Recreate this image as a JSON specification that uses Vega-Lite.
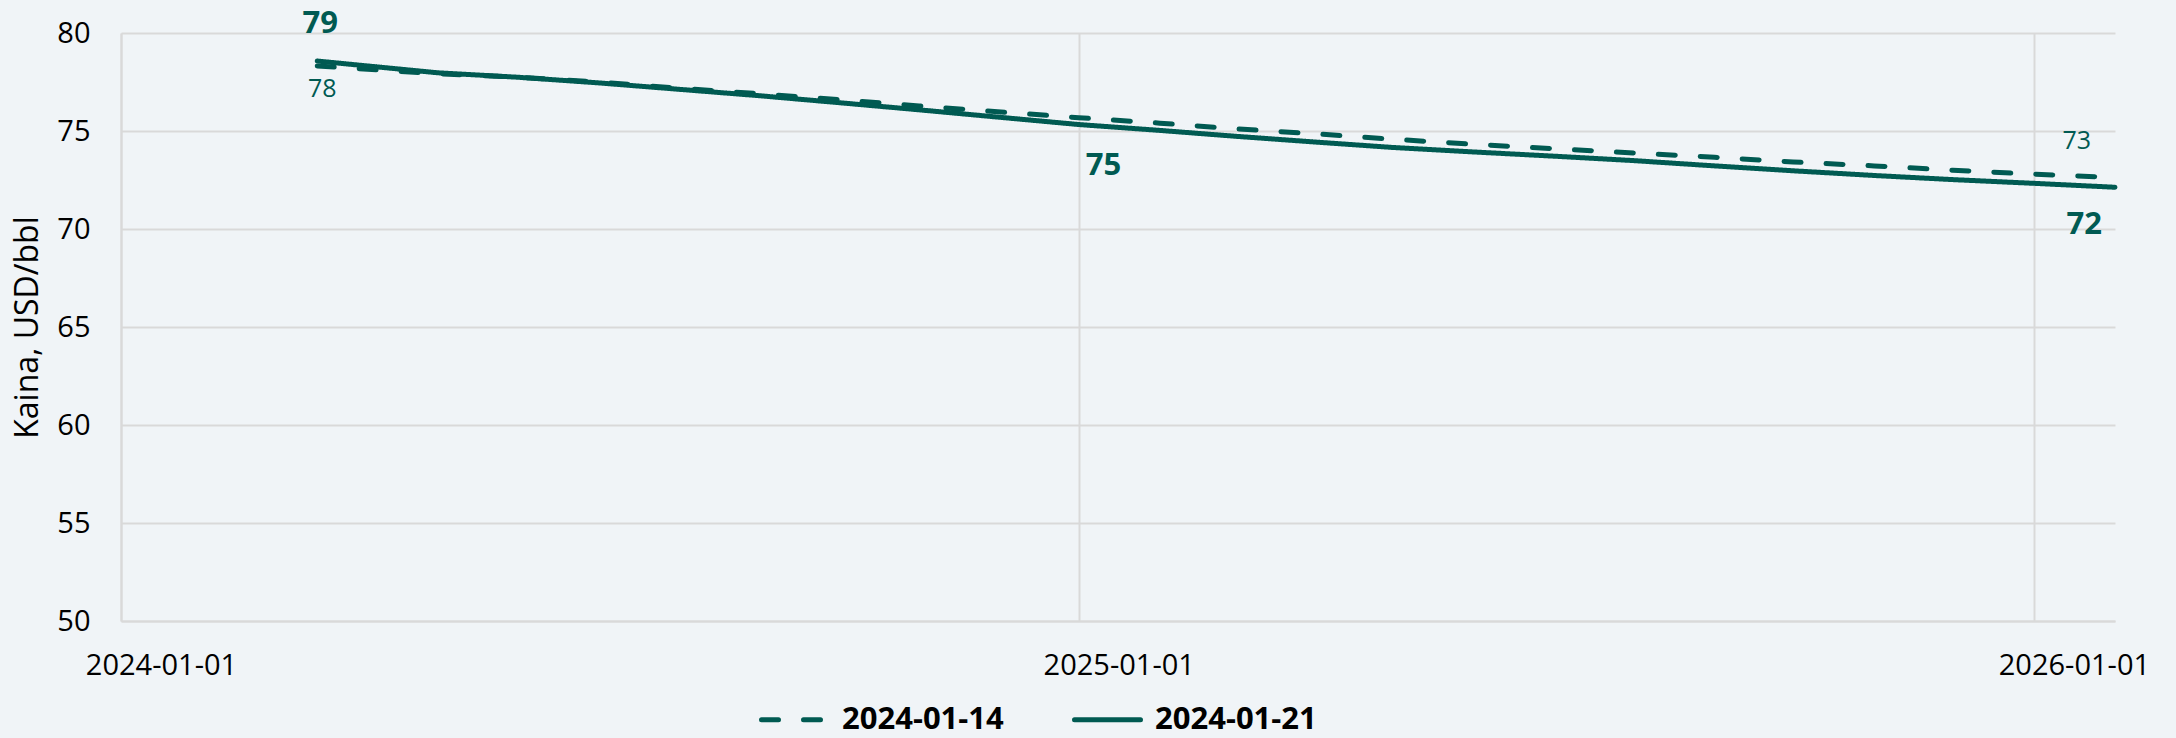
{
  "$schema": "https://vega.github.io/schema/vega-lite/v6.json",
  "autosize": {"type": "none"},
  "width": 1994,
  "height": 588,
  "padding": {"left": 121, "top": 33, "right": 61, "bottom": 117},
  "background": "#F0F4F7",
  "config": {
    "view": {"stroke": null},
    "font": "Open Sans",
    "axis": {"labelFont": "Open Sans", "titleFont": "Open Sans"}
  },
  "datasets": {
    "curves": [
      {"date": "2024-03-16", "series": "2024-01-14", "value": 78.32},
      {"date": "2024-04-01", "series": "2024-01-14", "value": 78.18},
      {"date": "2024-05-01", "series": "2024-01-14", "value": 77.92},
      {"date": "2024-06-01", "series": "2024-01-14", "value": 77.74},
      {"date": "2024-07-01", "series": "2024-01-14", "value": 77.50},
      {"date": "2024-08-01", "series": "2024-01-14", "value": 77.19},
      {"date": "2024-09-01", "series": "2024-01-14", "value": 76.90},
      {"date": "2024-10-01", "series": "2024-01-14", "value": 76.60},
      {"date": "2024-11-01", "series": "2024-01-14", "value": 76.28},
      {"date": "2024-12-01", "series": "2024-01-14", "value": 75.98},
      {"date": "2025-01-01", "series": "2024-01-14", "value": 75.68},
      {"date": "2025-02-01", "series": "2024-01-14", "value": 75.40},
      {"date": "2025-03-01", "series": "2024-01-14", "value": 75.12},
      {"date": "2025-04-01", "series": "2024-01-14", "value": 74.86},
      {"date": "2025-05-01", "series": "2024-01-14", "value": 74.58},
      {"date": "2025-06-01", "series": "2024-01-14", "value": 74.32},
      {"date": "2025-07-01", "series": "2024-01-14", "value": 74.10},
      {"date": "2025-08-01", "series": "2024-01-14", "value": 73.88},
      {"date": "2025-09-01", "series": "2024-01-14", "value": 73.66},
      {"date": "2025-10-01", "series": "2024-01-14", "value": 73.42},
      {"date": "2025-11-01", "series": "2024-01-14", "value": 73.22},
      {"date": "2025-12-01", "series": "2024-01-14", "value": 73.00},
      {"date": "2026-01-01", "series": "2024-01-14", "value": 72.80},
      {"date": "2026-02-01", "series": "2024-01-14", "value": 72.62},
      {"date": "2024-03-16", "series": "2024-01-21", "value": 78.57},
      {"date": "2024-04-01", "series": "2024-01-21", "value": 78.36},
      {"date": "2024-05-01", "series": "2024-01-21", "value": 77.97},
      {"date": "2024-06-01", "series": "2024-01-21", "value": 77.74},
      {"date": "2024-07-01", "series": "2024-01-21", "value": 77.46},
      {"date": "2024-08-01", "series": "2024-01-21", "value": 77.13},
      {"date": "2024-09-01", "series": "2024-01-21", "value": 76.80},
      {"date": "2024-10-01", "series": "2024-01-21", "value": 76.45},
      {"date": "2024-11-01", "series": "2024-01-21", "value": 76.08},
      {"date": "2024-12-01", "series": "2024-01-21", "value": 75.71},
      {"date": "2025-01-01", "series": "2024-01-21", "value": 75.33},
      {"date": "2025-02-01", "series": "2024-01-21", "value": 75.03},
      {"date": "2025-03-01", "series": "2024-01-21", "value": 74.74},
      {"date": "2025-04-01", "series": "2024-01-21", "value": 74.44},
      {"date": "2025-05-01", "series": "2024-01-21", "value": 74.16},
      {"date": "2025-06-01", "series": "2024-01-21", "value": 73.93},
      {"date": "2025-07-01", "series": "2024-01-21", "value": 73.72},
      {"date": "2025-08-01", "series": "2024-01-21", "value": 73.49},
      {"date": "2025-09-01", "series": "2024-01-21", "value": 73.22},
      {"date": "2025-10-01", "series": "2024-01-21", "value": 72.97},
      {"date": "2025-11-01", "series": "2024-01-21", "value": 72.73},
      {"date": "2025-12-01", "series": "2024-01-21", "value": 72.52},
      {"date": "2026-01-01", "series": "2024-01-21", "value": 72.33},
      {"date": "2026-02-01", "series": "2024-01-21", "value": 72.13}
    ]
  },
  "layer": [
    {
      "data": {"name": "curves"},
      "mark": {"type": "line", "strokeWidth": 5, "strokeCap": "round", "color": "#005A52"},
      "encoding": {
        "x": {
          "field": "date", "type": "temporal",
          "scale": {"type": "utc", "domain": ["2024-01-01", "2026-02-01"], "nice": false},
          "axis": {
            "title": null,
            "format": "%Y-%m-%d",
            "values": [
              {"year": 2024, "month": 1, "date": 1, "utc": true},
              {"year": 2025, "month": 1, "date": 1, "utc": true},
              {"year": 2026, "month": 1, "date": 1, "utc": true}
            ],
            "grid": true, "gridColor": "#D9D9D9", "gridWidth": 2,
            "domain": true, "domainColor": "#D9D9D9", "domainWidth": 2,
            "ticks": false, "tickSize": 0,
            "labelFontSize": 29, "labelColor": "#000000",
            "labelPadding": 30, "labelOffset": 40, "labelAlign": "center",
            "labelBaseline": "top", "labelFlush": false, "labelOverlap": false
          }
        },
        "y": {
          "field": "value", "type": "quantitative",
          "scale": {"domain": [50, 80], "nice": false, "zero": false},
          "axis": {
            "title": "Kaina, USD/bbl",
            "values": [50, 55, 60, 65, 70, 75, 80],
            "grid": true, "gridColor": "#D9D9D9", "gridWidth": 2,
            "domain": true, "domainColor": "#D9D9D9", "domainWidth": 2,
            "ticks": false, "tickSize": 0,
            "labelFontSize": 29, "labelColor": "#000000", "labelPadding": 31,
            "titleFontSize": 32, "titleFontWeight": "normal", "titleColor": "#000000",
            "titlePadding": 12
          }
        },
        "strokeDash": {
          "field": "series", "type": "nominal",
          "scale": {"domain": ["2024-01-14", "2024-01-21"], "range": [[17, 25], [1, 0]]},
          "legend": {
            "orient": "none", "legendX": 638, "legendY": 651,
            "direction": "horizontal", "title": null, "padding": 0,
            "labelFont": "Open Sans", "labelFontSize": 31, "labelFontWeight": "bold", "labelColor": "#000000",
            "labelLimit": 0,
            "symbolType": "stroke", "symbolSize": 4356, "symbolStrokeWidth": 5,
            "symbolStrokeColor": "#005A52", "labelOffset": 12, "columnPadding": 60,
            "encode": {"symbols": {"update": {"strokeCap": {"value": "round"}}}}
          }
        }
      }
    },
    {
      "data": {"values": [{"date": "2024-03-16", "value": 78.57, "label": "79"}]},
      "mark": {"type": "text", "font": "Open Sans", "fontSize": 31, "fontWeight": "bold", "color": "#005A52", "align": "center", "baseline": "alphabetic", "dx": 3, "dy": -28},
      "encoding": {"x": {"field": "date", "type": "temporal"}, "y": {"field": "value", "type": "quantitative"}, "text": {"field": "label"}}
    },
    {
      "data": {"values": [{"date": "2024-03-16", "value": 78.32, "label": "78"}]},
      "mark": {"type": "text", "font": "Open Sans", "fontSize": 25, "color": "#005A52", "align": "center", "baseline": "alphabetic", "dx": 5, "dy": 31},
      "encoding": {"x": {"field": "date", "type": "temporal"}, "y": {"field": "value", "type": "quantitative"}, "text": {"field": "label"}}
    },
    {
      "data": {"values": [{"date": "2025-01-01", "value": 75.33, "label": "75"}]},
      "mark": {"type": "text", "font": "Open Sans", "fontSize": 31, "fontWeight": "bold", "color": "#005A52", "align": "left", "baseline": "alphabetic", "dx": 7, "dy": 50},
      "encoding": {"x": {"field": "date", "type": "temporal"}, "y": {"field": "value", "type": "quantitative"}, "text": {"field": "label"}}
    },
    {
      "data": {"values": [{"date": "2026-02-01", "value": 72.62, "label": "73"}]},
      "mark": {"type": "text", "font": "Open Sans", "fontSize": 25, "color": "#005A52", "align": "right", "baseline": "alphabetic", "dx": -24, "dy": -29},
      "encoding": {"x": {"field": "date", "type": "temporal"}, "y": {"field": "value", "type": "quantitative"}, "text": {"field": "label"}}
    },
    {
      "data": {"values": [{"date": "2026-02-01", "value": 72.13, "label": "72"}]},
      "mark": {"type": "text", "font": "Open Sans", "fontSize": 31, "fontWeight": "bold", "color": "#005A52", "align": "right", "baseline": "alphabetic", "dx": -13, "dy": 47},
      "encoding": {"x": {"field": "date", "type": "temporal"}, "y": {"field": "value", "type": "quantitative"}, "text": {"field": "label"}}
    }
  ]
}
